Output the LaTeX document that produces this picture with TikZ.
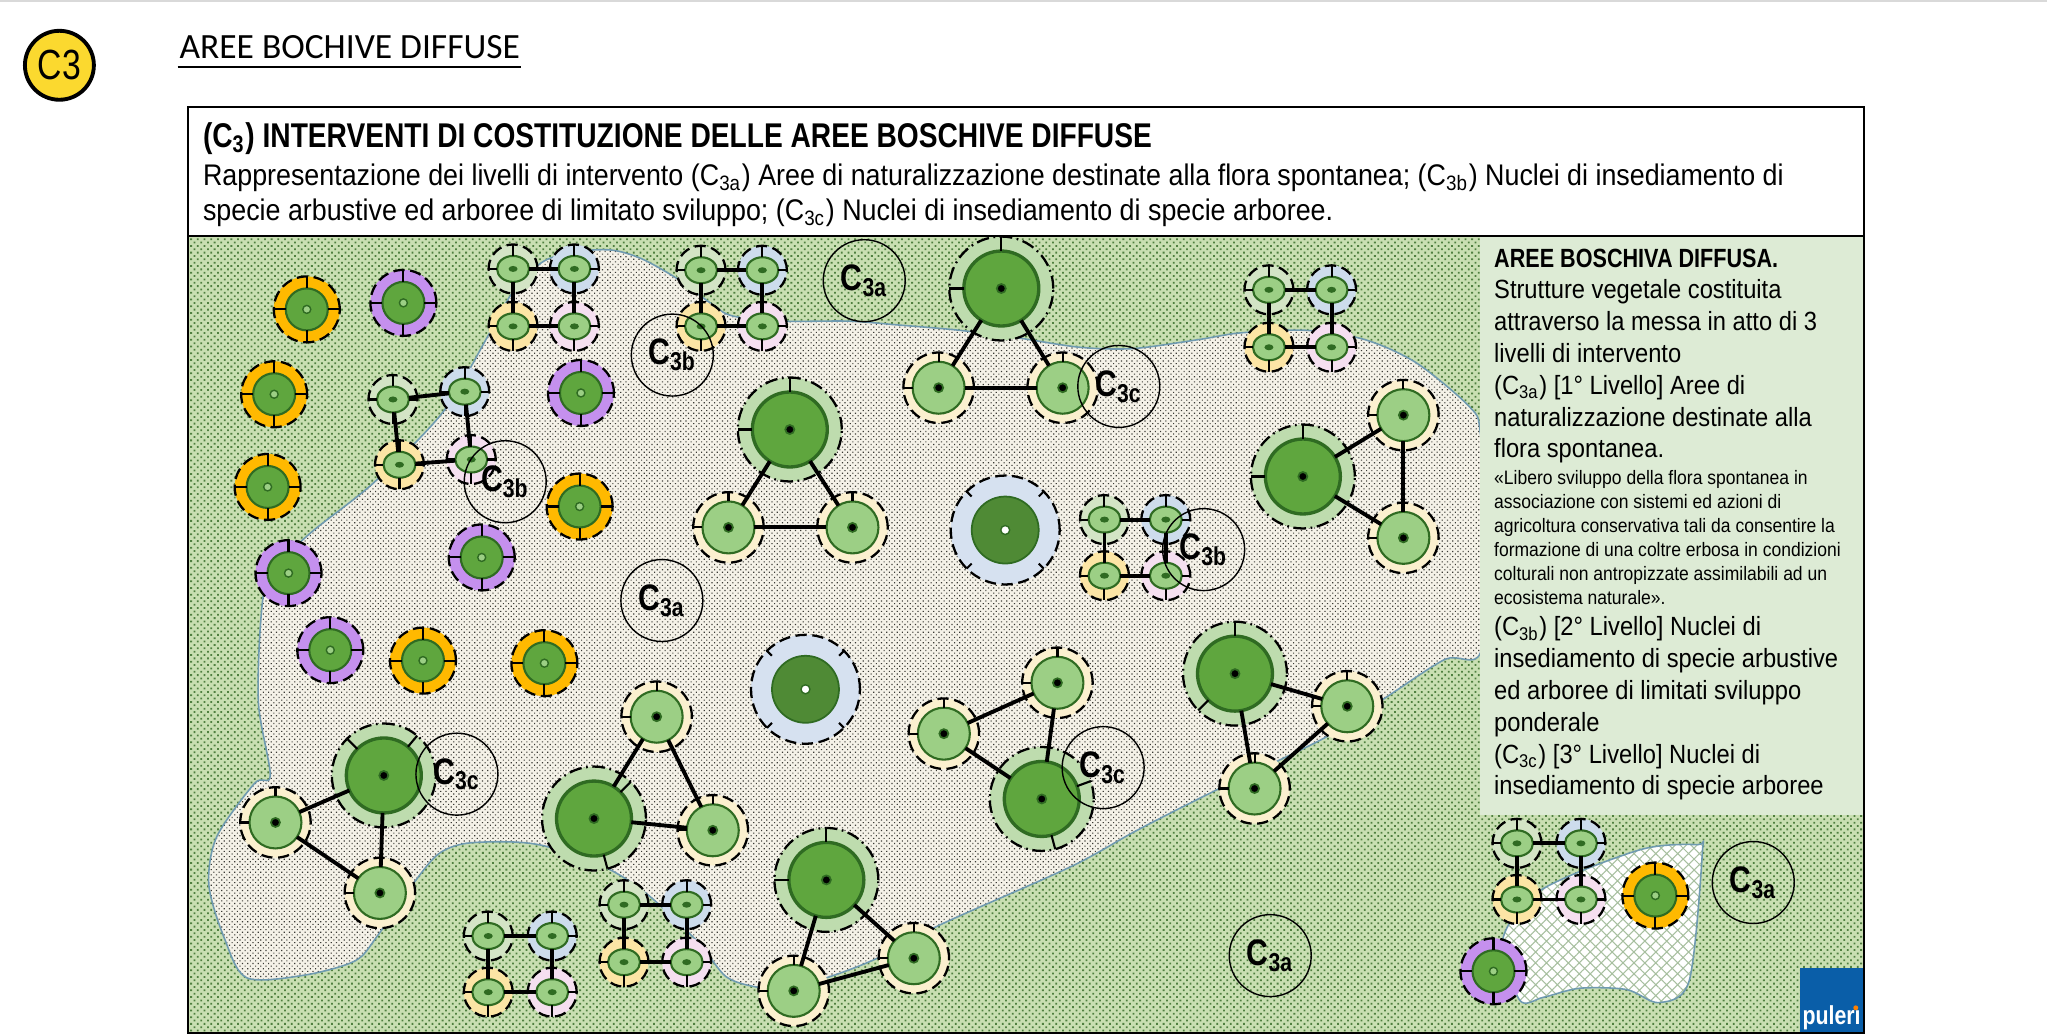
\documentclass[tikz,border=0pt]{standalone}
\usepackage{fontspec}
\setmainfont{Liberation Sans}[FakeStretch=0.82]
\newfontfamily\bodyfont{Liberation Sans}[FakeStretch=0.9]
\newfontfamily\headfont{Carlito}
\newfontfamily\badgefont{Liberation Sans}[FakeStretch=0.8]
\usetikzlibrary{shapes.geometric,patterns.meta,positioning}

\definecolor{greenbase}{HTML}{C9DFB2}
\definecolor{greendot}{HTML}{4F7F3F}
\definecolor{sandbase}{HTML}{F5F2E8}
\definecolor{sanddot}{HTML}{3A3A35}
\definecolor{panelgreen}{HTML}{DDEBD5}
\definecolor{shoreline}{HTML}{6F9AB0}
\definecolor{midgreen}{HTML}{5FA63E}
\definecolor{darkgreen}{HTML}{2F6B22}
\definecolor{lightgreen}{HTML}{9CCF85}
\definecolor{bluegreen}{HTML}{4F8A35}
\definecolor{haloorange}{HTML}{FFB900}
\definecolor{halopurple}{HTML}{C590EE}
\definecolor{halopale}{HTML}{FBF0CF}
\definecolor{halomint}{HTML}{BEDCAE}
\definecolor{haloblue}{HTML}{D6E1F0}
\definecolor{qgreen}{HTML}{D3E4C5}
\definecolor{qblue}{HTML}{CDDCEC}
\definecolor{qyellow}{HTML}{FCE5A5}
\definecolor{qpink}{HTML}{F5DFF0}
\definecolor{badgeyellow}{HTML}{FBD92F}
\definecolor{puleriblue}{HTML}{0A5EA8}

% name, halo, core, dot, x, y, tick angles
\newcommand{\plant}[7]{%
    \node [#2] (#1) at (#5,#6) {};
    \node [#3] (#1core) at (#5,#6) {};
    \node [#4] (#1dot) at (#5,#6) {};
    \foreach \a in {#7} \draw [tick] (#1.\a) -- (#1core.\a);
}
\newcommand{\Csub}[1]{C\textsubscript{#1}}

\begin{document}
\begin{tikzpicture}[x=0.013055cm, y=-0.013055cm]
    % Define styles
    \tikzstyle{ring} = [circle, draw=black, line width=0.65pt, dash pattern=on 3.2pt off 1.6pt, inner sep=0pt, outer sep=0pt]
    \tikzstyle{onehalo} = [ring, minimum size=6.6mm]
    \tikzstyle{onecore} = [circle, draw=darkgreen, line width=0.6pt, fill=midgreen, minimum size=4.2mm, inner sep=0pt, outer sep=0pt]
    \tikzstyle{onedot} = [circle, draw=darkgreen, fill=lightgreen, line width=0.4pt, minimum size=0.8mm, inner sep=0pt]
    \tikzstyle{quadhalo} = [ring, minimum size=4.9mm]
    \tikzstyle{quadcore} = [ellipse, draw=darkgreen, line width=0.6pt, fill=lightgreen, minimum width=3.2mm, minimum height=2.6mm, inner sep=0pt, outer sep=0pt]
    \tikzstyle{quaddot} = [ellipse, fill=darkgreen, minimum width=0.9mm, minimum height=0.6mm, inner sep=0pt]
    \tikzstyle{bighalo} = [ring, fill=halomint, dash pattern=on 3.6pt off 1.3pt on 0.5pt off 1.3pt, minimum size=10.4mm]
    \tikzstyle{bigcore} = [circle, draw=darkgreen, line width=0.95pt, fill=midgreen, minimum size=7.5mm, inner sep=0pt, outer sep=0pt]
    \tikzstyle{meddot} = [circle, draw=darkgreen, fill=black, line width=0.5pt, minimum size=0.9mm, inner sep=0pt]
    \tikzstyle{medhalo} = [ring, fill=halopale, minimum size=7.05mm]
    \tikzstyle{medcore} = [circle, draw=darkgreen, line width=0.6pt, fill=lightgreen, minimum size=5.2mm, inner sep=0pt, outer sep=0pt]
    \tikzstyle{bluehalo} = [ring, fill=haloblue, minimum size=10.9mm]
    \tikzstyle{bluecore} = [circle, draw=darkgreen, line width=0.5pt, fill=bluegreen, minimum size=6.7mm, inner sep=0pt, outer sep=0pt]
    \tikzstyle{bluedot} = [circle, draw=darkgreen, fill=white, line width=0.4pt, minimum size=0.9mm, inner sep=0pt]
    \tikzstyle{tick} = [line width=0.6pt, black]
    \tikzstyle{link} = [line width=1.1pt, black]
    \tikzstyle{tag} = [circle, draw=black, line width=0.4pt, minimum size=8.2mm, inner sep=0pt, font=\fontsize{10.5pt}{11pt}\selectfont\bfseries]
    \tikzstyle{greenzone} = [preaction={fill=greenbase}, pattern={Dots[radius=0.36pt, distance=1.35pt, angle=45]}, pattern color=greendot]
    \tikzstyle{sandzone} = [preaction={fill=sandbase}, pattern={Dots[radius=0.23pt, distance=1.05pt, angle=45]}, pattern color=sanddot]
    \tikzstyle{netzone} = [preaction={fill=white}, pattern={Hatch[angle=45, distance=2.2pt, line width=0.3pt]}, pattern color=greendot!50]

    \useasboundingbox (0,0) rectangle (1568,792);
    \fill [white] (0,0) rectangle (1568,792);
    \draw [black!15, line width=0.6pt] (0,0.5) -- (1568,0.5);

    % Heading
    \node [circle, draw=black, line width=1.1pt, fill=badgeyellow, minimum size=6.9mm, inner sep=0pt, font=\badgefont\fontsize{12pt}{13pt}\selectfont] (badge) at (45.5,50) {C3};
    \node [anchor=base west, inner sep=0pt, font=\headfont\fontsize{10.1pt}{11pt}\selectfont] (heading) at (137,45) {AREE BOCHIVE DIFFUSE};
    \draw [black, line width=0.6pt] (heading.base west) ++(-1,6) coordinate (rulea) -- ++(263,0) coordinate (ruleb);

    % Ground and planted areas
    \fill [greenzone] (144,181) rectangle (1428,791);
    \draw [sandzone, draw=shoreline, line width=0.45pt] plot [smooth cycle, tension=0.5] coordinates {(374,257) (392,225) (415,201) (440,193) (468,191.5) (491,198) (518,213) (544,232) (561,242) (600,246) (650,246) (689,249) (735,253) (781,259) (827,266) (868,267) (919,260) (950,255) (1000,253) (1045,260) (1085,278) (1126,312) (1134,332) (1140,420) (1134,500) (1107,505) (1062,534) (1015,565) (932,605) (871,636) (820,664) (721,708) (672,734) (633,749) (600,757) (579,756) (556,748) (535,722) (497,686) (465,665) (421,649) (394,645) (357,646) (336,654) (318,675) (289,717) (272,736) (233,747) (189,749) (172,719) (160,678) (166,641) (195,600) (207,594) (198,539) (200,472) (207,440) (237,409) (286,370) (339,316)};
    \draw [netzone, draw=shoreline, line width=0.45pt] plot [smooth cycle, tension=0.5] coordinates {(1151,720) (1180,682) (1256,651) (1300,647) (1304,653) (1294,751) (1271,768) (1246,758) (1210,757) (1182,764) (1164,766)};

    % Single plants
    \foreach \n/\x/\y in {orA/235/237, orB/210/302, orC/205/373, orD/444/388, orE/324/506, orF/417/508, orG/1268/686}
        {\plant{\n}{onehalo, fill=haloorange}{onecore}{onedot}{\x}{\y}{0,90,180,270}}
    \foreach \n/\x/\y in {puA/309/232, puB/445/301, puC/221/439, puD/369/427, puE/253/498, puF/1144/744}
        {\plant{\n}{onehalo, fill=halopurple}{onecore}{onedot}{\x}{\y}{0,90,180,270}}
    \foreach \n/\x/\y in {blA/770/406, blB/617/528}
    {
        \plant{\n}{bluehalo}{bluecore}{bluedot}{\x}{\y}{}
        \foreach \a in {45,135,225,315} \draw [tick, shorten >=1.4mm] (\n.\a) -- (\n core.\a);
    }

    % Groups of four
    \foreach \n/\ax/\ay/\bx/\by/\cx/\cy/\dx/\dy in {qA/393/206/440/206/393/250/440/250, qB/537/207/584/207/537/250/584/250, qC/972/222/1020/222/972/266/1020/266, qD/301/306/356/300/306/356/361/352, qE/846/398/893/398/846/441/893/441, qF/478/693/526/693/478/737/526/737, qG/374/717/423/717/374/760/423/760, qH/1162/646/1211/646/1162/689/1211/689}
    {
        \plant{\n a}{quadhalo, fill=qgreen}{quadcore}{quaddot}{\ax}{\ay}{0,90,180,270}
        \plant{\n b}{quadhalo, fill=qblue}{quadcore}{quaddot}{\bx}{\by}{0,90,180,270}
        \plant{\n c}{quadhalo, fill=qyellow}{quadcore}{quaddot}{\cx}{\cy}{0,90,180,270}
        \plant{\n d}{quadhalo, fill=qpink}{quadcore}{quaddot}{\dx}{\dy}{0,90,180,270}
        \draw [link] (\n acore) -- (\n bcore);
        \draw [link] (\n ccore) -- (\n dcore);
        \draw [link] (\n acore) -- (\n ccore);
        \draw [link] (\n bcore) -- (\n dcore);
    }

    % Groups of three
    \foreach \n/\ax/\ay/\bx/\by/\cx/\cy/\ta/\tb in {tA/767/221/719/297/814/297/90/180, tB/605/329/558/404/653/404/90/180, tC/998/365/1075/318/1075/412/90/180, tD/946/516/1032/541/961/604/225/90, tE/798/612/723/562/810/523/20/285, tF/455/627/503/549/546/636/45/285, tG/294/594/211/630/291/684/135/50, tH/633/674/608/759/700/734/90/180}
    {
        \plant{\n a}{bighalo}{bigcore}{meddot}{\ax}{\ay}{\ta,\tb}
        \plant{\n b}{medhalo}{medcore}{meddot}{\bx}{\by}{90,180}
        \plant{\n c}{medhalo}{medcore}{meddot}{\cx}{\cy}{90,180}
        \draw [link] (\n acore) -- (\n bcore);
        \draw [link] (\n acore) -- (\n ccore);
        \draw [link] (\n bcore) -- (\n ccore);
    }

    % Level tags
    \foreach \n/\x/\y/\t in {tagA/662/215/3a, tagB/507/460/3a, tagC/1343/676/3a, tagD/973/732/3a, tagE/515/272/3b, tagF/387/369/3b, tagG/922/421/3b, tagH/857/296/3c, tagI/350/593/3c, tagJ/845/588/3c}
        {\node [tag] (\n) at (\x,\y) {\Csub{\t}};}

    % Panel on the right
    \fill [panelgreen] (1134,181) rectangle (1428,624);
    \node [anchor=north west, inner sep=0pt, align=left, font=\fontsize{7.5pt}{9.05pt}\selectfont] (panelA) at (1144,190) {\textbf{AREE BOSCHIVA DIFFUSA.}\\\bodyfont Strutture vegetale costituita\\\bodyfont attraverso la messa in atto di 3\\\bodyfont livelli di intervento\\\bodyfont (\Csub{3a}) [1° Livello] Aree di\\\bodyfont naturalizzazione destinate alla\\\bodyfont flora spontanea.};
    \node [anchor=north west, inner sep=0pt, align=left, font=\bodyfont\fontsize{5.54pt}{6.8pt}\selectfont] (panelB) at (1144,360) {«Libero sviluppo della flora spontanea in\\associazione con sistemi ed azioni di\\agricoltura conservativa tali da consentire la\\formazione di una coltre erbosa in condizioni\\colturali non antropizzate assimilabili ad un\\ecosistema naturale».};
    \node [anchor=north west, inner sep=0pt, align=left, font=\bodyfont\fontsize{7.5pt}{9.05pt}\selectfont] (panelC) at (1144,472) {(\Csub{3b}) [2° Livello] Nuclei di\\insediamento di specie arbustive\\ed arboree di limitati sviluppo\\ponderale\\(\Csub{3c}) [3° Livello] Nuclei di\\insediamento di specie arboree};

    % Header box
    \fill [white] (144,82) rectangle (1428,181);
    \node [anchor=base west, inner sep=0pt, font=\fontsize{9.77pt}{11pt}\selectfont\bfseries] (title) at (155,113) {(C\textsubscript{3}) INTERVENTI DI COSTITUZIONE DELLE AREE BOSCHIVE DIFFUSE};
    \node [anchor=base west, inner sep=0pt, font=\bodyfont\fontsize{8.49pt}{10pt}\selectfont] (subA) at (155,142) {Rappresentazione dei livelli di intervento (\Csub{3a}) Aree di naturalizzazione destinate alla flora spontanea; (\Csub{3b}) Nuclei di insediamento di};
    \node [anchor=base west, inner sep=0pt, font=\bodyfont\fontsize{8.49pt}{10pt}\selectfont] (subB) at (155,169) {specie arbustive ed arboree di limitato sviluppo; (\Csub{3c}) Nuclei di insediamento di specie arboree.};
    \draw [black, line width=0.5pt] (144,181) -- (1428,181);

    % Logo
    \node [anchor=south east, fill=puleriblue, minimum size=6.4mm, inner sep=0pt] (logo) at (1428,791) {};
    \node [anchor=base, inner sep=0pt, text=white, font=\fontsize{7.4pt}{8pt}\selectfont\bfseries] (logotext) at (1403,785) {puler\i};
    \node [circle, fill=orange, minimum size=0.5mm, inner sep=0pt] (logodot) at (1421.5,772) {};

    \draw [black, line width=0.6pt] (144,82) rectangle (1428,791);
\end{tikzpicture}
\end{document}
